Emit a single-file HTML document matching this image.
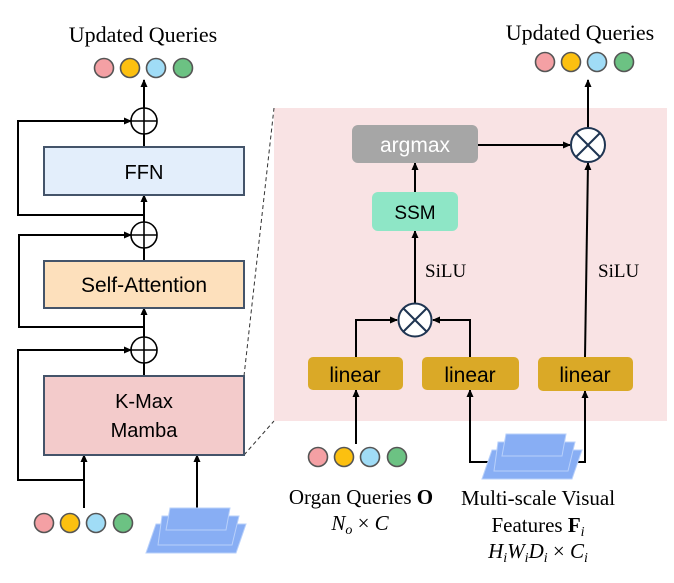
<!DOCTYPE html>
<html><head><meta charset="utf-8"><style>
body{margin:0;background:#fff;width:674px;height:583px;overflow:hidden}
svg{display:block}
.s{font-family:"Liberation Sans","DejaVu Sans",sans-serif}
.r{font-family:"Liberation Serif",serif}
</style></head><body>
<svg width="674" height="583" viewBox="0 0 674 583" xmlns="http://www.w3.org/2000/svg">
<defs>
<marker id="a" markerWidth="8" markerHeight="8" refX="7" refY="4" orient="auto" markerUnits="userSpaceOnUse"><path d="M0,0.5 L8,4 L0,7.5 Z" fill="#000"/></marker>
<g id="q"><circle cx="0" cy="0" r="9.5" fill="#f4a0a4" stroke="#555" stroke-width="1.6"/><circle cx="26" cy="0" r="9.5" fill="#fcc010" stroke="#555" stroke-width="1.6"/><circle cx="52" cy="0" r="9.5" fill="#a0dcf6" stroke="#555" stroke-width="1.6"/><circle cx="79" cy="0" r="9.5" fill="#6cc283" stroke="#555" stroke-width="1.6"/></g>
<g id="st"><polygon points="6,16 96,16 86,45 -4,45" fill="#88aef4" stroke="#b8d0fa"/><polygon points="12,8 89,8 82,37 8,37" fill="#88aef4" stroke="#b8d0fa"/><polygon points="20,0 80,0 76,22 16,22" fill="#88aef4" stroke="#b8d0fa"/></g>
</defs>
<rect x="274" y="108" width="393" height="313" fill="#f9e3e4"/>
<line x1="244" y1="376" x2="274" y2="108" stroke="#333" stroke-dasharray="4,3"/>
<line x1="244" y1="455" x2="274" y2="421" stroke="#333" stroke-dasharray="4,3"/>
<text x="143" y="42" class="r" font-size="22" text-anchor="middle">Updated Queries</text>
<use href="#q" x="104" y="68"/>
<g stroke="#000" stroke-width="2" fill="none">
<line x1="144" y1="108" x2="144" y2="80" marker-end="url(#a)"/>
<line x1="144" y1="147" x2="144" y2="134"/>
<line x1="144" y1="248" x2="144" y2="195" marker-end="url(#a)"/>
<line x1="144" y1="261" x2="144" y2="222"/>
<line x1="144" y1="363" x2="144" y2="308" marker-end="url(#a)"/>
<line x1="144" y1="376" x2="144" y2="337"/>
<polyline points="144,215 18,215 18,121 131,121" marker-end="url(#a)"/>
<polyline points="144,327 19,327 19,235 131,235" marker-end="url(#a)"/>
<polyline points="84,480 18,480 18,350 131,350" marker-end="url(#a)"/>
<line x1="84" y1="508" x2="84" y2="455" marker-end="url(#a)"/>
<line x1="197" y1="508" x2="197" y2="455" marker-end="url(#a)"/>
</g>
<g stroke="#000" stroke-width="1.6" fill="#fff">
<circle cx="144" cy="121" r="13"/><circle cx="144" cy="235" r="13"/><circle cx="144" cy="350" r="13"/>
</g>
<g stroke="#000" stroke-width="1.6"><line x1="131" y1="121" x2="157" y2="121"/><line x1="144" y1="108" x2="144" y2="134"/><line x1="131" y1="235" x2="157" y2="235"/><line x1="144" y1="222" x2="144" y2="248"/><line x1="131" y1="350" x2="157" y2="350"/><line x1="144" y1="337" x2="144" y2="363"/></g>
<rect x="44" y="147" width="200" height="48" fill="#e3eefb" stroke="#44546a" stroke-width="2"/>
<text x="144" y="179" class="s" font-size="20" text-anchor="middle">FFN</text>
<rect x="44" y="261" width="200" height="47" fill="#fde0bc" stroke="#44546a" stroke-width="2"/>
<text x="144" y="292" class="s" font-size="21" text-anchor="middle">Self-Attention</text>
<rect x="44" y="376" width="200" height="79" fill="#f3cbcb" stroke="#44546a" stroke-width="2"/>
<text x="144" y="408" class="s" font-size="20" text-anchor="middle">K-Max</text>
<text x="144" y="437" class="s" font-size="20" text-anchor="middle">Mamba</text>
<use href="#q" x="44" y="523"/>
<use href="#st" x="150" y="508"/>
<text x="580" y="40" class="r" font-size="22" text-anchor="middle">Updated Queries</text>
<use href="#q" x="545" y="62"/>
<g stroke="#000" stroke-width="2" fill="none">
<line x1="588" y1="128" x2="588" y2="80" marker-end="url(#a)"/>
<line x1="478" y1="145" x2="570" y2="145" marker-end="url(#a)"/>
<line x1="415" y1="192" x2="415" y2="163" marker-end="url(#a)"/>
<line x1="415" y1="303" x2="415" y2="231" marker-end="url(#a)"/>
<line x1="585" y1="357" x2="588" y2="163" marker-end="url(#a)"/>
<polyline points="356,357 356,320 397,320" marker-end="url(#a)"/>
<polyline points="470,357 470,320 433,320" marker-end="url(#a)"/>
<line x1="356" y1="444" x2="356" y2="390" marker-end="url(#a)"/>
<polyline points="490,462 470,462 470,390" marker-end="url(#a)"/>
<polyline points="578,462 585,462 585,391" marker-end="url(#a)"/>
</g>
<rect x="352" y="125" width="126" height="38" rx="6" fill="#a6a6a6"/>
<text x="415" y="152" class="s" font-size="21" fill="#fff" text-anchor="middle">argmax</text>
<rect x="372" y="192" width="86" height="39" rx="6" fill="#8ee6c6"/>
<text x="415" y="219" class="s" font-size="19" text-anchor="middle">SSM</text>
<g fill="#daa927"><rect x="308" y="357" width="95" height="33" rx="5"/><rect x="422" y="357" width="97" height="33" rx="5"/><rect x="538" y="357" width="95" height="34" rx="5"/></g>
<g class="s" font-size="21" text-anchor="middle"><text x="355" y="382">linear</text><text x="470" y="382">linear</text><text x="585" y="382">linear</text></g>
<text x="425" y="277" class="r" font-size="19">SiLU</text>
<text x="598" y="277" class="r" font-size="19">SiLU</text>
<g stroke="#1f3552" stroke-width="2" fill="#fff"><circle cx="588" cy="145" r="17"/><circle cx="415" cy="320" r="16.5"/></g>
<g stroke="#1f3552" stroke-width="2"><line x1="576" y1="133" x2="600" y2="157"/><line x1="600" y1="133" x2="576" y2="157"/><line x1="403" y1="308" x2="427" y2="332"/><line x1="427" y1="308" x2="403" y2="332"/></g>
<use href="#q" x="318" y="457"/>
<use href="#st" x="486" y="434"/>
<g class="r" font-size="21" text-anchor="middle">
<text x="361" y="504">Organ Queries <tspan font-weight="bold">O</tspan></text>
<text x="360" y="530" font-style="italic">N<tspan font-size="14" dy="4">o</tspan><tspan dy="-4" font-style="normal"> × </tspan>C</text>
<text x="538" y="505">Multi-scale Visual</text>
<text x="538" y="532">Features <tspan font-weight="bold">F</tspan><tspan font-style="italic" font-size="14" dy="4">i</tspan></text>
<text x="538" y="558" font-style="italic">H<tspan font-size="14" dy="4">i</tspan><tspan dy="-4">W</tspan><tspan font-size="14" dy="4">i</tspan><tspan dy="-4">D</tspan><tspan font-size="14" dy="4">i</tspan><tspan dy="-4" font-style="normal"> × </tspan>C<tspan font-size="14" dy="4">i</tspan></text>
</g>
</svg>
</body></html>
